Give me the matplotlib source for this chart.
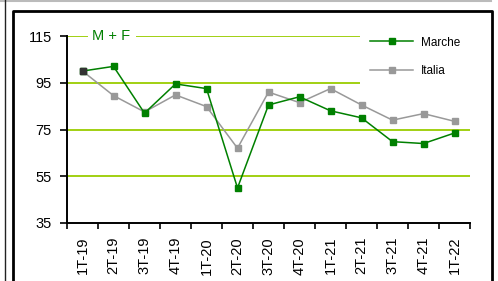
import matplotlib.pyplot as plt
from matplotlib.lines import Line2D

plt.rcParams['font.family'] = ['Liberation Sans', 'DejaVu Sans']

# --- DATA ---
quarters = ["1T-19", "2T-19", "3T-19", "4T-19", "1T-20", "2T-20", "3T-20",
            "4T-20", "1T-21", "2T-21", "3T-21", "4T-21", "1T-22"]
marche = [100.0, 102.0, 82.0, 94.5, 92.5, 50.0, 85.5, 89.0, 83.0, 80.0, 69.8, 69.0, 73.5]
italia = [100.0, 89.5, 82.5, 89.8, 84.8, 67.0, 91.0, 86.5, 92.5, 85.5, 79.0, 81.8, 78.5]
yticks = [35, 55, 75, 95, 115]

GRID = '#9ACD00'
GREEN = '#008000'
GRAY = '#999999'


def main():
    fig = plt.figure(figsize=(4.98, 2.81), dpi=100)
    ax = fig.add_axes([67 / 498, 1 - 223 / 281, 403 / 498, 187 / 281])

    x = list(range(len(quarters)))
    ax.set_xlim(-0.5, len(quarters) - 0.5)
    ax.set_ylim(35, 115)

    # gridlines (upper two are cut by the legend / label)
    ax.hlines([55, 75], -0.5, len(quarters) - 0.5, color=GRID, lw=1.3, zorder=1)
    ax.hlines([95], -0.5, 8.95, color=GRID, lw=1.3, zorder=1)
    ax.hlines([115, 115], [-0.5, 1.73], [0.18, 8.95], color=GRID, lw=1.3, zorder=1)
    ax.text(0.93, 115, "M + F", color=GREEN, fontsize=10.5, ha='center', va='center')

    ax.plot(x, marche, color=GREEN, marker='s', ms=5, lw=1.1, label='Marche', zorder=3,
            clip_on=False)
    ax.plot(x, italia, color=GRAY, marker='s', ms=5, lw=1.1, label='Italia', zorder=2,
            clip_on=False)
    # shared base point
    ax.plot([0], [marche[0]], marker='s', ms=5, color='#333333', zorder=4)

    ax.set_yticks(yticks)
    ax.set_yticklabels([str(v) for v in yticks], fontsize=10.5)
    ax.set_xticks([i - 0.5 for i in range(len(quarters) + 1)], minor=False)
    ax.set_xticklabels([])
    ax.set_xticks(x, minor=True)
    ax.set_xticklabels(quarters, minor=True, rotation=90, fontsize=10.5)
    ax.tick_params(axis='x', which='minor', length=0, pad=10)
    ax.tick_params(axis='x', which='major', length=4, width=1.2, direction='out')
    ax.tick_params(axis='y', length=5, width=1.2, pad=6)

    for s in ['top', 'right']:
        ax.spines[s].set_visible(False)
    for s in ['left', 'bottom']:
        ax.spines[s].set_linewidth(1.4)

    ax.legend(loc='upper left', bbox_to_anchor=(370 / 498, 1 - 36.5 / 281),
              bbox_transform=fig.transFigure, frameon=False, fontsize=8.5,
              handlelength=3.65, handletextpad=0.68, labelspacing=1.37,
              borderaxespad=0, borderpad=0)

    # outer frames
    fig.add_artist(Line2D([0, 491 / 498], [1 - 0.5 / 281] * 2, color='#bbbbbb', lw=1.5))
    fig.add_artist(Line2D([4.5 / 498] * 2, [0, 1], color='#222222', lw=1.0))
    fig.add_artist(Line2D([12.5 / 498, 12.5 / 498, 491.5 / 498, 491.5 / 498],
                          [0, 1 - 11 / 281, 1 - 11 / 281, 0], color='black', lw=2.0))

    fig.savefig("out.png", dpi=100)


if __name__ == "__main__":
    main()
